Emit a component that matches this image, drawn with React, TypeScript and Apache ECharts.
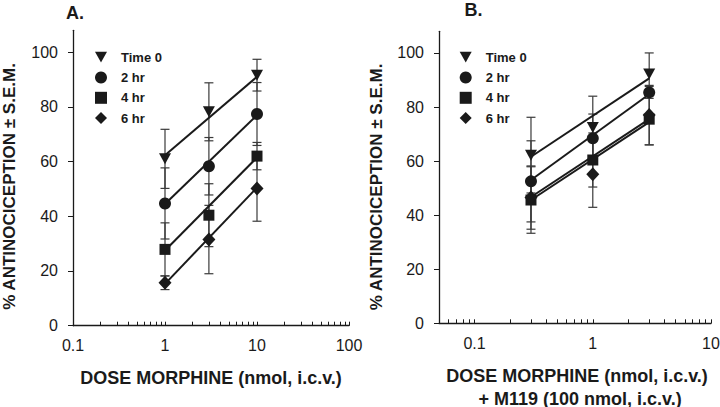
import React, { useEffect, useRef } from 'react';
import * as echarts from 'echarts';

// ---------- data ----------
const groupNames = ['Time 0', '2 hr', '4 hr', '6 hr'];

// Panel A: morphine alone
const doseA = [1, 3, 10];
const aTime0 = [61.0, 78.2, 91.6];
const aTime0Sem = [10.8, 10.6, 5.8];
const a2hr = [44.7, 58.3, 77.4];
const a2hrSem = [13.0, 10.5, 11.5];
const a4hr = [27.9, 40.4, 62.0];
const a4hrSem = [9.7, 11.5, 5.0];
const a6hr = [15.7, 31.5, 50.2];
const a6hrSem = [2.5, 12.5, 12.0];

const aFitDose = [1, 10];
const aFitTime0 = [62.3, 91.0];
const aFit2hr = [44.5, 77.0];
const aFit4hr = [27.5, 61.5];
const aFit6hr = [15.3, 50.5];

// Panel B: morphine + M119
const doseB = [0.3, 1, 3];
const bTime0 = [62.2, 72.4, 92.2];
const bTime0Sem = [14.0, 11.6, 7.8];
const b2hr = [52.5, 68.4, 85.4];
const b2hrSem = [15.0, 9.0, 2.2];
const b4hr = [45.6, 60.4, 75.5];
const b4hrSem = [12.3, 10.0, 9.5];
const b6hr = [46.5, 55.1, 77.0];
const b6hrSem = [11.7, 12.2, 11.0];

const bFitDose = [0.3, 3];
const bFitTime0 = [61.6, 90.6];
const bFit2hr = [53.0, 84.7];
const bFit4hr = [45.6, 74.4];
const bFit6hr = [46.7, 75.5];

// ---------- ticks ----------
const yTickValues = [0, 20, 40, 60, 80, 100];
const xLabelsA = [0.1, 1, 10, 100];
const xTicksA = [0.1, 0.2, 0.3, 0.4, 0.5, 0.6, 0.7, 0.8, 0.9, 1, 2, 3, 4, 5, 6, 7, 8, 9, 10, 20, 30, 40, 50, 60, 70, 80, 90, 100];
const xLabelsB = [0.1, 1, 10];
const xTicksB = [0.05, 0.06, 0.07, 0.08, 0.09, 0.1, 0.2, 0.3, 0.4, 0.5, 0.6, 0.7, 0.8, 0.9, 1, 2, 3, 4, 5, 6, 7, 8, 9, 10];

const FONT = "'Liberation Sans', Arial, Helvetica, sans-serif";
const INK = '#1a1a1a';
const BAR = '#3a3a3a';

const symbols: any[] = [
  { symbol: 'path://M0,0L10,0L5,9Z', size: [12, 11] },
  { symbol: 'circle', size: 12 },
  { symbol: 'rect', size: 11 },
  { symbol: 'diamond', size: [13, 14] },
];

function panelSeries(
  idx: number,
  dose: number[],
  means: number[][],
  sems: number[][],
  fitDose: number[],
  fits: number[][]
) {
  const out: any[] = [];
  means.forEach((m, g) => {
    out.push({
      type: 'custom',
      name: `err-${idx}-${g}`,
      xAxisIndex: idx,
      yAxisIndex: idx,
      z: 1,
      silent: true,
      data: dose.map((d, i) => [d, m[i], sems[g][i]]),
      encode: { x: 0, y: 1 },
      renderItem: (params: any, api: any) => {
        const x = api.value(0);
        const y = api.value(1);
        const e = api.value(2);
        const top = api.coord([x, y + e]);
        const bot = api.coord([x, y - e]);
        const hw = 4.5;
        const st = { stroke: BAR, lineWidth: 1.2 };
        return {
          type: 'group',
          children: [
            { type: 'line', shape: { x1: top[0], y1: top[1], x2: bot[0], y2: bot[1] }, style: st },
            { type: 'line', shape: { x1: top[0] - hw, y1: top[1], x2: top[0] + hw, y2: top[1] }, style: st },
            { type: 'line', shape: { x1: bot[0] - hw, y1: bot[1], x2: bot[0] + hw, y2: bot[1] }, style: st },
          ],
        };
      },
    });
  });
  fits.forEach((f, g) => {
    out.push({
      type: 'line',
      name: `fit-${idx}-${g}`,
      xAxisIndex: idx,
      yAxisIndex: idx,
      z: 2,
      silent: true,
      symbol: 'none',
      data: fitDose.map((d, i) => [d, f[i]]),
      lineStyle: { color: INK, width: 2 },
    });
  });
  means.forEach((m, g) => {
    out.push({
      type: 'scatter',
      name: groupNames[g],
      xAxisIndex: idx,
      yAxisIndex: idx,
      z: 3,
      symbol: symbols[g].symbol,
      symbolSize: symbols[g].size,
      data: dose.map((d, i) => [d, m[i]]),
      itemStyle: { color: INK, opacity: 1 },
    });
  });
  return out;
}

function xAxisDef(idx: number, min: number, max: number, ticks: number[], labels: number[]) {
  return {
    type: 'log',
    logBase: 10,
    gridIndex: idx,
    min,
    max,
    axisLine: { show: true, lineStyle: { color: INK, width: 1.3 } },
    axisTick: { show: true, inside: true, length: 4, customValues: ticks, lineStyle: { color: INK, width: 1 } },
    axisLabel: {
      customValues: labels,
      formatter: (v: number) => String(v),
      margin: 12,
      fontSize: 16,
      color: INK,
      fontFamily: FONT,
    },
    splitLine: { show: false },
    minorTick: { show: false },
    minorSplitLine: { show: false },
  };
}

function yAxisDef(idx: number) {
  return {
    type: 'value',
    gridIndex: idx,
    min: 0,
    max: 108,
    axisLine: { show: true, lineStyle: { color: INK, width: 1.3 } },
    axisTick: { show: true, inside: false, length: 5, customValues: yTickValues, lineStyle: { color: INK, width: 1 } },
    axisLabel: { customValues: yTickValues, margin: 15, fontSize: 16, color: INK, fontFamily: FONT },
    splitLine: { show: false },
  };
}

const legendBase = {
  orient: 'vertical',
  data: groupNames,
  itemWidth: 12,
  itemHeight: 12,
  itemGap: 7.3,
  selectedMode: false,
  textStyle: { fontSize: 13, fontWeight: 'bold', color: INK, fontFamily: FONT, padding: [0, 0, 0, 9] },
};

const titleFont = `bold 18px ${FONT}`;
const yTitleFont = `bold 17px ${FONT}`;

const option: any = {
  animation: false,
  backgroundColor: '#ffffff',
  grid: [
    { left: 73, top: 30.3, width: 276, height: 295.4, outerBoundsMode: 'none', containLabel: false },
    { left: 439, top: 31.3, width: 272, height: 292, outerBoundsMode: 'none', containLabel: false },
  ],
  xAxis: [xAxisDef(0, 0.1, 100, xTicksA, xLabelsA), xAxisDef(1, 0.05, 10, xTicksB, xLabelsB)],
  yAxis: [yAxisDef(0), yAxisDef(1)],
  legend: [
    { ...legendBase, left: 90, top: 45.7 },
    { ...legendBase, left: 454.7, top: 45.7 },
  ],
  graphic: [
    { type: 'text', x: 75, y: 13, style: { text: 'A.', font: `bold 18px ${FONT}`, fill: INK, align: 'center', verticalAlign: 'middle' } },
    { type: 'text', x: 473.5, y: 10, style: { text: 'B.', font: `bold 18px ${FONT}`, fill: INK, align: 'center', verticalAlign: 'middle' } },
    { type: 'text', x: 9.5, y: 186.5, rotation: Math.PI / 2, style: { text: '% ANTINOCICEPTION ± S.E.M.', font: yTitleFont, fill: INK, align: 'center', verticalAlign: 'middle' } },
    { type: 'text', x: 376, y: 187, rotation: Math.PI / 2, style: { text: '% ANTINOCICEPTION ± S.E.M.', font: yTitleFont, fill: INK, align: 'center', verticalAlign: 'middle' } },
    { type: 'text', x: 211, y: 378.3, style: { text: 'DOSE MORPHINE (nmol, i.c.v.)', font: titleFont, fill: INK, align: 'center', verticalAlign: 'middle' } },
    { type: 'text', x: 577, y: 375.7, style: { text: 'DOSE MORPHINE (nmol, i.c.v.)', font: titleFont, fill: INK, align: 'center', verticalAlign: 'middle' } },
    { type: 'text', x: 580, y: 398.5, style: { text: '+ M119 (100 nmol, i.c.v.)', font: titleFont, fill: INK, align: 'center', verticalAlign: 'middle' } },
  ],
  series: [
    ...panelSeries(
      0,
      doseA,
      [aTime0, a2hr, a4hr, a6hr],
      [aTime0Sem, a2hrSem, a4hrSem, a6hrSem],
      aFitDose,
      [aFitTime0, aFit2hr, aFit4hr, aFit6hr]
    ),
    ...panelSeries(
      1,
      doseB,
      [bTime0, b2hr, b4hr, b6hr],
      [bTime0Sem, b2hrSem, b4hrSem, b6hrSem],
      bFitDose,
      [bFitTime0, bFit2hr, bFit4hr, bFit6hr]
    ),
  ],
};

export default function App() {
  const ref = useRef<HTMLDivElement>(null);
  useEffect(() => {
    document.body.style.margin = '0';
    const chart = echarts.init(ref.current as HTMLDivElement, null, { renderer: 'svg' });
    chart.setOption(option);
    return () => chart.dispose();
  }, []);
  return <div ref={ref} style={{ width: 720, height: 407 }} />;
}
